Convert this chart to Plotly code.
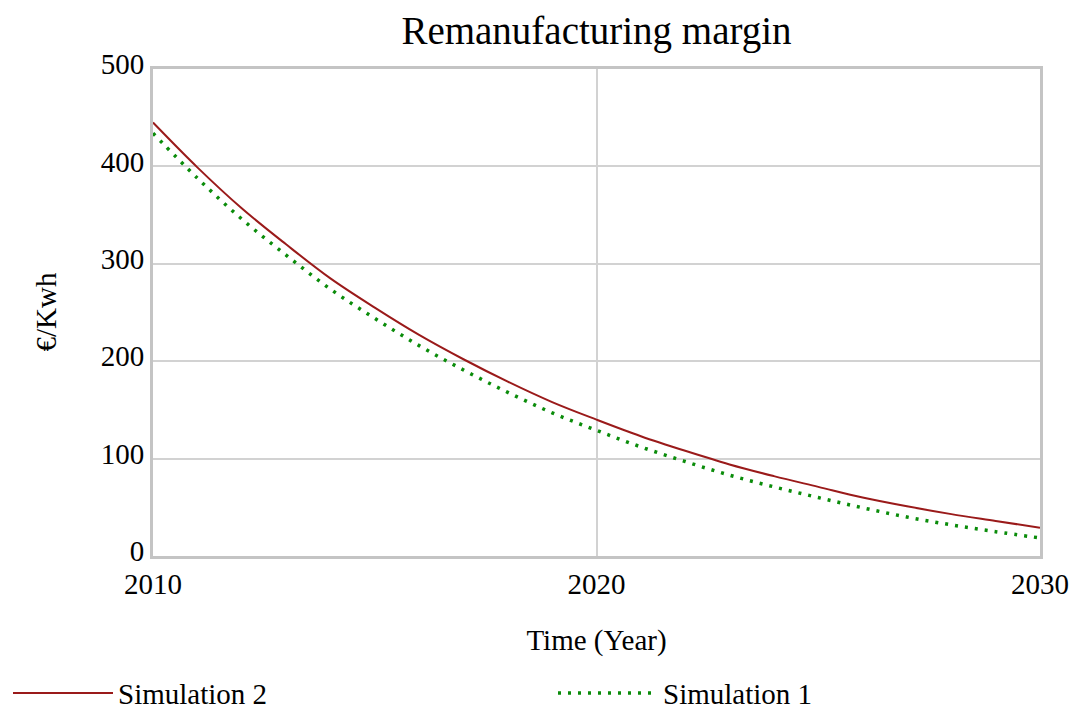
import plotly.graph_objects as go

years = list(range(2010, 2031))
sim2 = [445, 399, 357, 320, 285, 255, 227, 202, 179, 158, 140,
        123, 108, 94, 82, 71, 60, 51, 43, 36, 29]
sim1 = [434, 388, 346, 309, 274, 244, 216, 191, 168, 147, 129,
        112, 97, 83, 71, 60, 49.5, 40, 32, 25, 18.5]

FONT = "Liberation Serif"
W, H = 1062, 701
L, R, T, B = 145, 30, 61, 153
PW, PH = W - L - R, H - T - B

fig = go.Figure()
fig.add_trace(go.Scatter(x=years, y=sim2, mode="lines", name="Simulation 2", legend="legend",
                         line=dict(color="#9a1a1a", width=2, shape="spline")))
fig.add_trace(go.Scatter(x=years, y=sim1, mode="lines", name="Simulation 1", legend="legend2",
                         line=dict(color="#0a8c0a", width=3.5, dash="3px,7px", shape="spline")))

leg_common = dict(orientation="h", xref="container", yref="paper", y=-0.2818,
                  xanchor="left", yanchor="middle", itemwidth=100,
                  font=dict(family=FONT, size=29, color="black"), bgcolor="rgba(0,0,0,0)")

fig.update_layout(
    width=W, height=H,
    paper_bgcolor="white", plot_bgcolor="white",
    margin=dict(l=L, r=R, t=T, b=B, autoexpand=False),
    font=dict(family=FONT, size=29, color="black"),
    title=dict(text="Remanufacturing margin", font=dict(family=FONT, size=39, color="black"),
               x=0.5, xref="paper", xanchor="center", y=1 - 22 / H, yref="container", yanchor="middle"),
    showlegend=True,
    legend=dict(x=0, **leg_common),
    legend2=dict(x=545 / W, **leg_common),
    annotations=[dict(text="€/Kwh", xref="paper", yref="paper", x=-108 / PW, y=0.5,
                      xanchor="center", yanchor="middle", textangle=-90, showarrow=False,
                      font=dict(family=FONT, size=29, color="black"))],
)
fig.update_xaxes(range=[2010, 2030], dtick=10, tick0=2010, showgrid=True, gridcolor="#d2d2d2", gridwidth=2,
                 showline=True, mirror=True, linecolor="#c4c4c4", linewidth=3, ticks="", zeroline=False,
                 automargin=False,
                 title=dict(text="Time (Year)", standoff=31, font=dict(family=FONT, size=29)),
                 tickfont=dict(family=FONT, size=29))
fig.update_yaxes(range=[0, 500], dtick=100, showgrid=True, gridcolor="#d2d2d2", gridwidth=2,
                 showline=True, mirror=True, linecolor="#c4c4c4", linewidth=3, ticks="", zeroline=False,
                 automargin=False, ticklabelshift=-5,
                 tickfont=dict(family=FONT, size=29))

fig.write_html("out.html")
